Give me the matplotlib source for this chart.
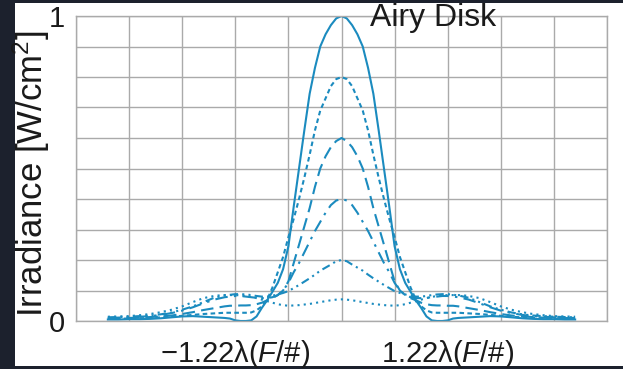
import numpy as np
import matplotlib
matplotlib.use('Agg')
import matplotlib.pyplot as plt
from matplotlib.patches import Rectangle

plt.rcParams['font.family'] = ['Liberation Sans', 'DejaVu Sans']
plt.rcParams['mathtext.fontset'] = 'custom'
plt.rcParams['mathtext.rm'] = 'Liberation Sans'
plt.rcParams['mathtext.it'] = 'Liberation Sans:italic'

# radial position in units of 1.22*lambda*(F/#), one half of each profile
r = [0.00, 0.05, 0.10, 0.15, 0.20, 0.25, 0.30, 0.35, 0.40, 0.45, 0.50,
     0.55, 0.60, 0.65, 0.70, 0.75, 0.80, 0.85, 0.90, 0.95, 1.00, 1.05,
     1.10, 1.15, 1.20, 1.30, 1.40, 1.50, 1.60, 1.70, 1.80, 1.90, 2.00,
     2.10, 2.20]

# irradiance profiles, peak 1.0 down to ~0.07
irr_100 = [1.000, 0.992, 0.970, 0.940, 0.900, 0.830, 0.745, 0.625, 0.500, 0.375, 0.245,
           0.170, 0.125, 0.096, 0.068, 0.043, 0.015, 0.002, 0.000, 0.000, 0.002, 0.008,
           0.010, 0.011, 0.012, 0.014, 0.016, 0.015, 0.012, 0.009, 0.007, 0.006, 0.006,
           0.005, 0.005]
irr_80 = [0.800, 0.793, 0.770, 0.730, 0.690, 0.625, 0.545, 0.470, 0.400, 0.335, 0.275,
          0.210, 0.160, 0.110, 0.070, 0.048, 0.035, 0.028, 0.027, 0.027, 0.027, 0.027,
          0.027, 0.026, 0.025, 0.023, 0.020, 0.017, 0.014, 0.012, 0.010, 0.009, 0.008,
          0.008, 0.007]
irr_60 = [0.600, 0.590, 0.570, 0.540, 0.500, 0.440, 0.370, 0.310, 0.250, 0.190, 0.130,
          0.100, 0.085, 0.075, 0.068, 0.060, 0.055, 0.052, 0.051, 0.051, 0.050, 0.050,
          0.048, 0.045, 0.042, 0.036, 0.029, 0.023, 0.018, 0.015, 0.013, 0.011, 0.010,
          0.010, 0.009]
irr_40 = [0.400, 0.395, 0.380, 0.355, 0.325, 0.295, 0.260, 0.225, 0.190, 0.160, 0.125,
          0.100, 0.085, 0.078, 0.075, 0.075, 0.076, 0.078, 0.080, 0.082, 0.082, 0.080,
          0.078, 0.074, 0.070, 0.058, 0.045, 0.034, 0.026, 0.020, 0.016, 0.014, 0.012,
          0.011, 0.010]
irr_20 = [0.200, 0.196, 0.185, 0.175, 0.165, 0.152, 0.140, 0.129, 0.118, 0.108, 0.098,
          0.092, 0.087, 0.083, 0.080, 0.080, 0.082, 0.085, 0.087, 0.088, 0.088, 0.086,
          0.084, 0.080, 0.076, 0.062, 0.048, 0.037, 0.028, 0.022, 0.018, 0.016, 0.014,
          0.013, 0.012]
irr_07 = [0.071, 0.070, 0.068, 0.065, 0.062, 0.059, 0.056, 0.054, 0.052, 0.051, 0.050,
          0.052, 0.055, 0.060, 0.065, 0.070, 0.075, 0.079, 0.082, 0.084, 0.085, 0.085,
          0.085, 0.084, 0.082, 0.075, 0.062, 0.048, 0.037, 0.029, 0.023, 0.019, 0.016,
          0.015, 0.014]

profiles = [irr_100, irr_80, irr_60, irr_40, irr_20, irr_07]
styles = ['-', (0, (2.2, 1.6)), (0, (6, 3)), (0, (6, 3, 1.2, 3)),
          (0, (4, 2, 1, 2, 1, 2)), (0, (1, 2))]

blue = '#1b8bbf'
dark = '#1c212d'
ink = '#1a1a1a'

fig = plt.figure(figsize=(6.23, 3.69), dpi=100, facecolor=dark)
fig.patches.append(Rectangle((15 / 623, 3 / 369), 1, 363 / 369,
                             transform=fig.transFigure, facecolor='white',
                             edgecolor='none', zorder=-1))

ax = fig.add_axes([76 / 623, 48 / 369, 531 / 623, 305 / 369])
ax.set_zorder(1)
ax.set_facecolor('white')

rr = np.array(r)
for prof, ls in zip(profiles, styles):
    p = np.array(prof)
    x = np.concatenate([-rr[::-1], rr[1:]])
    y = np.concatenate([p[::-1], p[1:]])
    ax.plot(x, y, color=blue, lw=1.5, ls=ls)

ax.set_xlim(-2.5, 2.5)
ax.set_ylim(0, 1)
ax.set_xticks(np.arange(-2.5, 2.51, 0.5))
ax.set_yticks(np.arange(0, 1.01, 0.1))
xl = ['' for _ in range(11)]
xl[3] = '$\\mathrm{\u22121.22\u03bb(}F/\\#\\mathrm{)}$'
xl[7] = '$\\mathrm{1.22\u03bb(}F/\\#\\mathrm{)}$'
ax.set_xticklabels(xl)
yl = ['' for _ in range(11)]
yl[0] = '0'
yl[10] = '1'
ax.set_yticklabels(yl)
ax.tick_params(length=0, labelsize=21, colors=ink)
ax.tick_params(axis='x', pad=12)
ax.tick_params(axis='y', pad=8)
ax.grid(True, color='#aaaaaa', lw=1.0)
for s in ax.spines.values():
    s.set_color('#aaaaaa')
    s.set_linewidth(1.0)

fig.text(31 / 623, 1 - 174 / 369, r'Irradiance [W/cm$^2$]', rotation=90,
         ha='center', va='center', fontsize=25, color=ink)
fig.text(370 / 623, 1 - 26 / 369, 'Airy Disk', ha='left', va='baseline',
         fontsize=23, color=ink, zorder=3)

fig.savefig('out.png', dpi=100, facecolor=dark)
